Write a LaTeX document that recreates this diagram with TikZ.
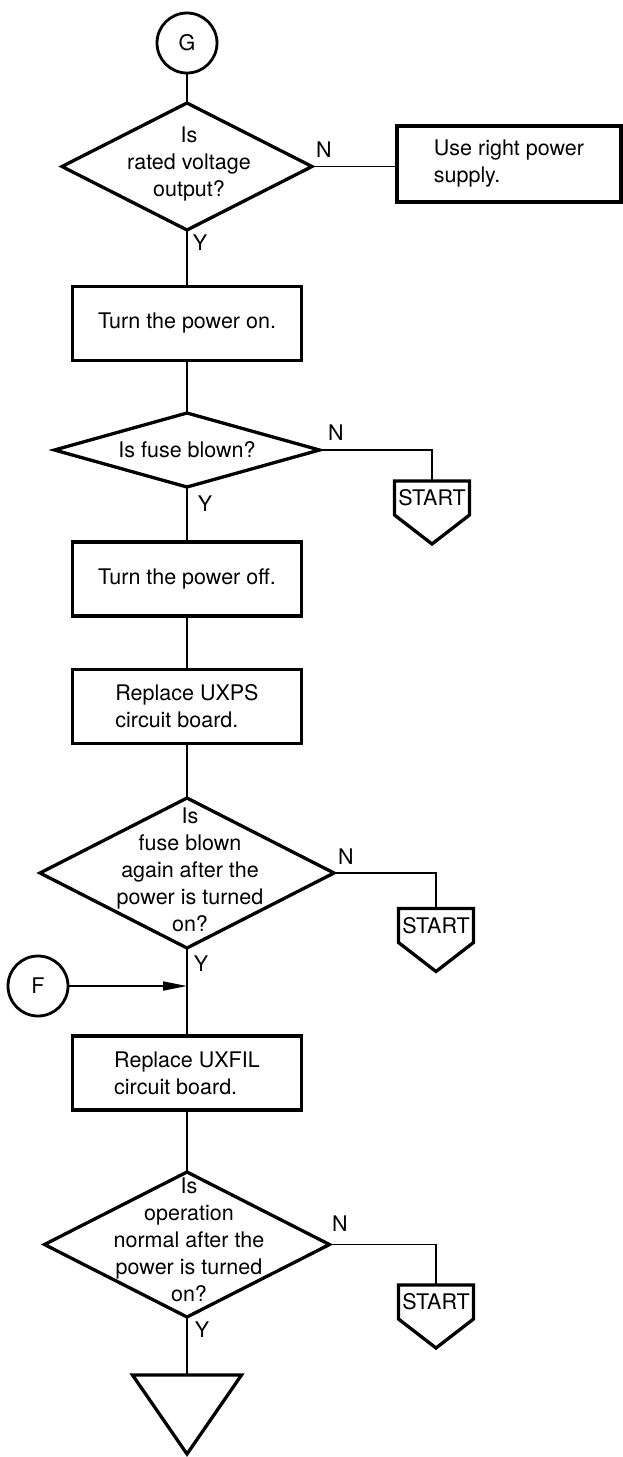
\documentclass[tikz,border=0pt]{standalone}
\usepackage{fontspec}
\setmainfont{TeX Gyre Heros}
\usetikzlibrary{shapes.geometric,arrows.meta}
\begin{document}
\begin{tikzpicture}[x=1pt,y=-1pt,
  every node/.style={font=\fontsize{21.5}{27}\selectfont},
  shapeline/.style={line width=3.3pt},
  conn/.style={line width=1.8pt},
  boxnode/.style={draw,shapeline,rectangle,minimum width=229pt,minimum height=74pt,inner sep=0pt,outer sep=0pt},
  dia/.style={draw,shapeline,diamond,inner sep=0pt,outer sep=0pt},
  conncirc/.style={draw,line width=2.8pt,circle,minimum size=60pt,inner sep=0pt,outer sep=0pt},
  startbox/.style={minimum width=75pt,minimum height=34pt,inner sep=0pt,outer sep=0pt},
  ynlab/.style={inner sep=0pt}
]
\useasboundingbox (0,0) rectangle (623,1457);

% top
\node[conncirc] (G) at (187,43) {G};
\node[dia,minimum width=250pt,minimum height=127pt] (d1) at (187,166.5) {};
\node[align=center] (t1) at (189,164) {Is\\rated voltage\\output?};
\node[boxnode,minimum width=224pt,minimum height=76pt,align=left] (b1) at (509,164) {Use right power\\supply.};
\node[ynlab] (n1) at (324,150) {N};
\node[ynlab] (y1) at (200,243) {Y};

\node[boxnode] (b2) at (187,323.5) {Turn the power on.};
\node[dia,minimum width=265pt,minimum height=74pt] (d2) at (187,450) {};
\node (t2) at (187,450) {Is fuse blown?};
\node[ynlab] (n2) at (336,433) {N};
\node[ynlab] (y2) at (205,504) {Y};
\node[startbox] (s1) at (432,498) {START};

\node[boxnode] (b3) at (187,579) {Turn the power off.};
\node[boxnode,align=left] (b4) at (187,706.5) {Replace UXPS\\circuit board.};

\node[dia,minimum width=294pt,minimum height=150pt] (d3) at (187,873) {};
\node[align=center] (t3) at (190,870) {Is\\fuse blown\\again after the\\power is turned\\on?};
\node[ynlab] (n3) at (346,857) {N};
\node[ynlab] (y3) at (201,964) {Y};
\node[startbox] (s2) at (436,925.5) {START};

\node[conncirc] (F) at (38,986) {F};
\coordinate (j) at (187,986);
\node[boxnode,align=left] (b5) at (187,1073) {Replace UXFIL\\circuit board.};

\node[dia,minimum width=285pt,minimum height=145pt] (d4) at (187,1244.5) {};
\node[align=center] (t4) at (189,1240) {Is\\operation\\normal after the\\power is turned\\on?};
\node[ynlab] (n4) at (340,1224) {N};
\node[ynlab] (y4) at (202,1330) {Y};
\node[startbox] (s3) at (436,1302) {START};

\coordinate (e) at (187,1375);
\draw[shapeline,line join=miter] ([xshift=-54.5pt]e) -- ([xshift=54.5pt]e) -- ([yshift=-79pt]e) -- cycle;

% START pentagons
\foreach \s in {s1,s2,s3}{
  \draw[shapeline,line join=miter] (\s.north west) -- (\s.north east) -- (\s.south east)
     -- ([yshift=-29pt]\s.south) -- (\s.south west) -- cycle;
}

% connectors
\draw[conn] (G.south) -- (d1.north);
\draw[conn] (d1.east) -- (d1.east -| b1.west);
\draw[conn] (d1.south) -- (b2.north);
\draw[conn] (b2.south) -- (d2.north);
\draw[conn] (d2.east) -| (s1.north);
\draw[conn] (d2.south) -- (b3.north);
\draw[conn] (b3.south) -- (b4.north);
\draw[conn] (b4.south) -- (d3.north);
\draw[conn] (d3.east) -| (s2.north);
\draw[conn] (d3.south) -- (j) -- (b5.north);
\draw[conn,-{Triangle[length=24pt,width=9pt]}] (F.east) -- (j);
\draw[conn] (b5.south) -- (d4.north);
\draw[conn] (d4.east) -| (s3.north);
\draw[conn] (d4.south) -- (e);
\end{tikzpicture}
\end{document}
